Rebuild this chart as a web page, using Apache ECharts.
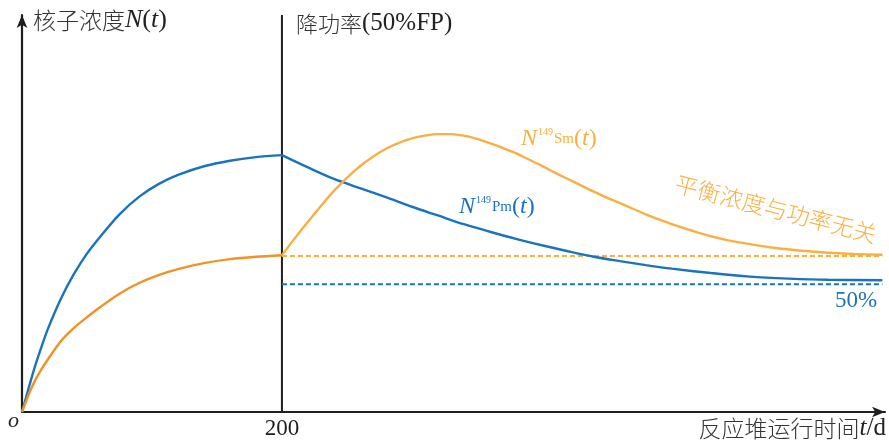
<!DOCTYPE html>
<html>
<head>
<meta charset="utf-8">
<script src="https://cdn.jsdelivr.net/npm/echarts@6/dist/echarts.min.js"></script>
<style>
  html, body { margin: 0; padding: 0; background: #fff; }
  #chart { width: 889px; height: 446px; }
</style>
</head>
<body>
<div id="chart"></div>
<script>
// Time in days, concentration in arbitrary units (0–100 spans the y axis)
const pmRise = [[0, 0], [5, 5.9], [10, 11.5], [15, 16.4], [20, 21.0], [30, 28.6], [40, 34.8], [50, 39.9], [60, 44.1], [75, 49.8], [90, 54.2], [105, 57.4], [120, 59.7], [140, 61.9], [160, 63.3], [180, 64.2], [200, 64.7]];
const smRise = [[0, 0], [5, 4.3], [10, 7.9], [15, 10.8], [20, 13.3], [30, 17.9], [40, 21.2], [50, 23.9], [60, 26.4], [75, 29.8], [90, 32.5], [105, 34.5], [120, 36.0], [140, 37.5], [160, 38.5], [180, 39.1], [200, 39.5]];
const pmAfter = [[200, 64.7], [220, 61.6], [240, 58.7], [260, 56.4], [280, 54.1], [300, 51.7], [320, 49.5], [340, 47.3], [360, 45.4], [380, 43.6], [400, 42.0], [420, 40.5], [440, 39.1], [460, 38.0], [480, 37.0], [500, 36.1], [530, 35.0], [560, 34.1], [590, 33.6], [620, 33.3], [662, 33.2]];
const smAfter = [[200, 39.5], [210, 43.8], [220, 47.9], [230, 51.9], [240, 55.7], [250, 59.0], [260, 61.9], [270, 64.3], [280, 66.3], [290, 67.8], [300, 68.9], [310, 69.6], [320, 70.0], [330, 70.0], [340, 69.6], [350, 68.8], [360, 67.7], [370, 66.5], [380, 65.2], [390, 63.6], [400, 62.0], [410, 60.3], [420, 58.7], [430, 57.1], [440, 55.5], [450, 54.0], [460, 52.6], [470, 51.2], [480, 49.8], [490, 48.5], [500, 47.3], [520, 45.2], [540, 43.5], [560, 42.3], [580, 41.3], [600, 40.6], [620, 40.1], [640, 39.8], [662, 39.6]];
const smEquilibrium = [[200, 39.3], [662, 39.3]];
const pmHalfPower = [[200, 32.2], [662, 32.2]];
const powerStep = [[200, 0], [200, 100]];
const xTickLabels = { 200: '200' };

const BLUE = '#1a73bf';
const ORANGE = '#f29224';
const ORANGE_LIGHT = '#f9b040';
const SERIF = '"Liberation Serif", "DejaVu Serif", serif';
const CJK = '"Noto Sans CJK SC", sans-serif';

const chart = echarts.init(document.getElementById('chart'));

const line = (data, color, extra) => Object.assign({
  type: 'line', data, symbol: 'none', smooth: 0.3, silent: true,
  lineStyle: { color, width: 2.4 }
}, extra || {});

chart.setOption({
  animation: false,
  grid: { left: 22, right: 4, top: 15, bottom: 34 },
  xAxis: {
    type: 'value', min: 0, max: 664, interval: 200,
    axisLine: { lineStyle: { color: '#1e1e1e', width: 2.2 }, symbol: ['none', 'arrow'], symbolSize: [8, 13] },
    axisTick: { show: false },
    splitLine: { show: false },
    axisLabel: {
      color: '#1e1e1e', fontFamily: SERIF, fontSize: 23, margin: 5,
      formatter: v => xTickLabels[v] || ''
    }
  },
  yAxis: {
    type: 'value', min: 0, max: 100,
    axisLine: { show: true, lineStyle: { color: '#1e1e1e', width: 2.2 }, symbol: ['none', 'arrow'], symbolSize: [8, 13] },
    axisTick: { show: false },
    splitLine: { show: false },
    axisLabel: { show: false }
  },
  series: [
    line(powerStep, '#1e1e1e', { smooth: false, lineStyle: { color: '#1e1e1e', width: 2 } }),
    line(smEquilibrium, ORANGE_LIGHT, { smooth: false, lineStyle: { color: ORANGE_LIGHT, width: 2, type: [5, 3] } }),
    line(pmHalfPower, BLUE, { smooth: false, lineStyle: { color: BLUE, width: 2, type: [5, 3] } }),
    line(pmRise, BLUE),
    line(smRise, ORANGE),
    line(pmAfter, BLUE),
    line(smAfter, ORANGE_LIGHT)
  ],
  graphic: [
    {
      type: 'text', left: 33, top: 7,
      style: {
        text: '{c|核子浓度}{i|N}{r|(}{i|t}{r|)}',
        rich: {
          c: { fontFamily: CJK, fontSize: 23, fill: '#333', fontWeight: 300 },
          i: { fontFamily: SERIF, fontStyle: 'italic', fontSize: 26, fill: '#222' },
          r: { fontFamily: SERIF, fontSize: 26, fill: '#222' }
        }
      }
    },
    {
      type: 'text', left: 296, top: 11,
      style: {
        text: '{c|降功率}{r|(50%FP)}',
        rich: {
          c: { fontFamily: CJK, fontSize: 22, fill: '#333', fontWeight: 300 },
          r: { fontFamily: SERIF, fontSize: 25, fill: '#222' }
        }
      }
    },
    {
      type: 'text', left: 8, top: 410,
      style: { text: 'o', fontFamily: SERIF, fontStyle: 'italic', fontSize: 22, fill: '#222' }
    },
    {
      type: 'text', right: 3, top: 416,
      style: {
        text: '{c|反应堆运行时间}{i|t}{r|/d}',
        rich: {
          c: { fontFamily: CJK, fontSize: 23, fill: '#333', fontWeight: 300 },
          i: { fontFamily: SERIF, fontStyle: 'italic', fontSize: 25, fill: '#222' },
          r: { fontFamily: SERIF, fontSize: 25, fill: '#222' }
        }
      }
    },
    {
      type: 'text', left: 521, top: 127,
      style: {
        text: '{i|N}{s|149}{m|Sm}{r|(}{i|t}{r|)}',
        rich: {
          i: { fontFamily: SERIF, fontStyle: 'italic', fontSize: 24, fill: ORANGE_LIGHT },
          s: { fontFamily: SERIF, fontSize: 10, fill: ORANGE_LIGHT, verticalAlign: 'top', padding: [0, 1, 6, 1] },
          m: { fontFamily: SERIF, fontSize: 15, fill: ORANGE_LIGHT },
          r: { fontFamily: SERIF, fontSize: 24, fill: ORANGE_LIGHT }
        }
      }
    },
    {
      type: 'text', left: 459, top: 195,
      style: {
        text: '{i|N}{s|149}{m|Pm}{r|(}{i|t}{r|)}',
        rich: {
          i: { fontFamily: SERIF, fontStyle: 'italic', fontSize: 24, fill: BLUE },
          s: { fontFamily: SERIF, fontSize: 10, fill: BLUE, verticalAlign: 'top', padding: [0, 1, 6, 1] },
          m: { fontFamily: SERIF, fontSize: 15, fill: BLUE },
          r: { fontFamily: SERIF, fontSize: 24, fill: BLUE }
        }
      }
    },
    {
      type: 'text', x: 776, y: 209, rotation: -0.25,
      style: {
        text: '平衡浓度与功率无关', fontFamily: CJK, fontSize: 23, fontWeight: 300,
        fill: ORANGE_LIGHT, align: 'center', verticalAlign: 'middle'
      }
    },
    {
      type: 'text', left: 835, top: 289,
      style: { text: '50%', fontFamily: SERIF, fontSize: 23, fill: BLUE }
    }
  ]
});
</script>
</body>
</html>
